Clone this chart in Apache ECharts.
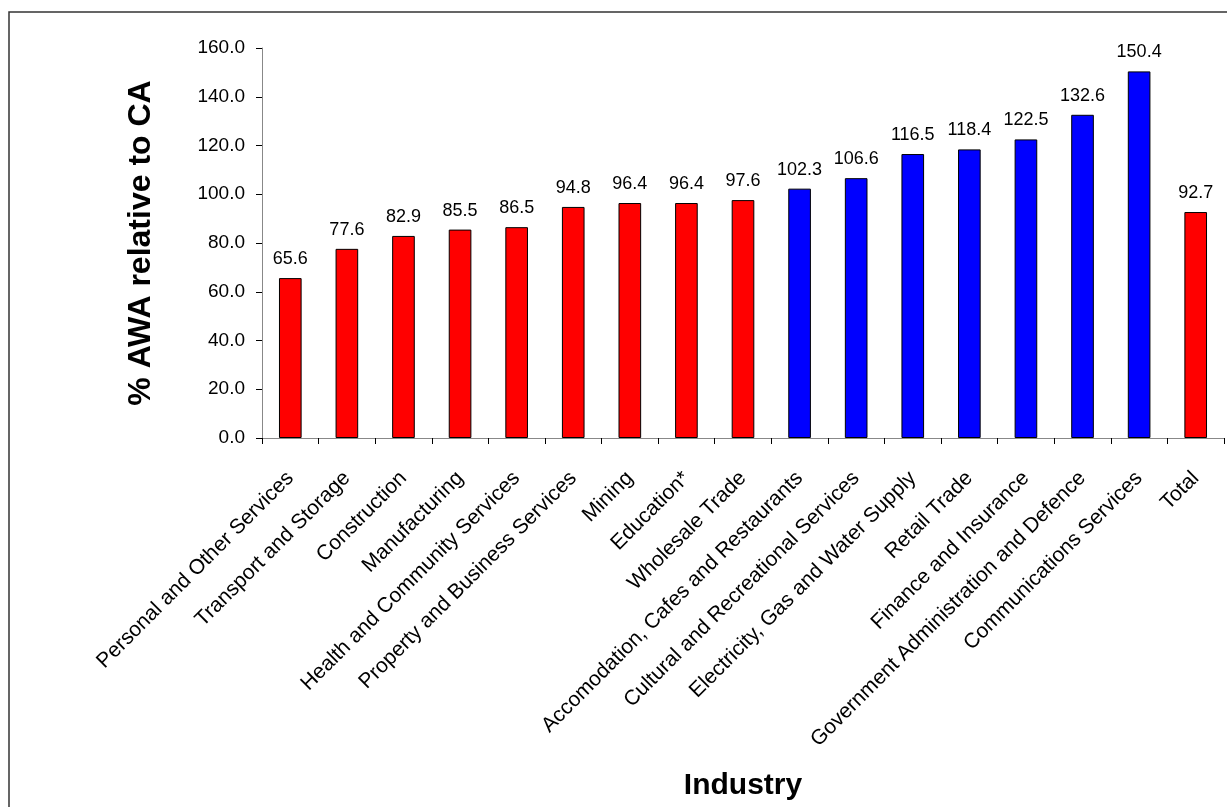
<!DOCTYPE html>
<html>
<head>
<meta charset="utf-8">
<script src="https://cdn.jsdelivr.net/npm/echarts@6/dist/echarts.min.js"></script>
<style>
  html, body { margin: 0; padding: 0; background: #fff; }
  #chart { width: 1227px; height: 807px; }
</style>
</head>
<body>
<div id="chart"></div>
<script>
// Industries, sorted by AWA relative to CA, with the overall total last
const categories = [
  'Personal and Other Services',
  'Transport and Storage',
  'Construction',
  'Manufacturing',
  'Health and Community Services',
  'Property and Business Services',
  'Mining',
  'Education*',
  'Wholesale Trade',
  'Accomodation, Cafes and Restaurants',
  'Cultural and Recreational Services',
  'Electricity, Gas and Water Supply',
  'Retail Trade',
  'Finance and Insurance',
  'Government Administration and Defence',
  'Communications Services',
  'Total'
];
const values = [65.6, 77.6, 82.9, 85.5, 86.5, 94.8, 96.4, 96.4, 97.6,
                102.3, 106.6, 116.5, 118.4, 122.5, 132.6, 150.4, 92.7];
const yTicks = { min: 0, max: 160, interval: 20 };

const RED = '#FF0000';
const BLUE = '#0000FF';

const chart = echarts.init(document.getElementById('chart'), null, { renderer: 'canvas' });

const font = '"Liberation Sans", Arial, sans-serif';

chart.setOption({
  animation: false,
  backgroundColor: '#fff',
  textStyle: { fontFamily: font },
  graphic: [{
    type: 'rect',
    shape: { x: 9, y: 12, width: 1240, height: 820 },
    style: { fill: 'none', stroke: '#333', lineWidth: 1.5 },
    silent: true
  }],
  grid: { left: 262, top: 48, right: 3, bottom: 369, containLabel: false },
  xAxis: {
    type: 'category',
    data: categories,
    boundaryGap: true,
    name: 'Industry',
    nameLocation: 'middle',
    nameGap: 333,
    nameTextStyle: { fontSize: 30, fontWeight: 'bold', color: '#000', fontFamily: font },
    axisLine: { lineStyle: { color: '#888', width: 1 } },
    axisTick: { show: true, alignWithLabel: false, length: 6, lineStyle: { color: '#000' } },
    axisLabel: { rotate: 45, interval: 0, fontSize: 21, color: '#000', margin: 37, fontFamily: font },
    splitLine: { show: false }
  },
  yAxis: {
    type: 'value',
    min: yTicks.min,
    max: yTicks.max,
    interval: yTicks.interval,
    name: '% AWA relative to CA',
    nameLocation: 'middle',
    nameGap: 105,
    nameTextStyle: { fontSize: 32, fontWeight: 'bold', color: '#000', fontFamily: font },
    axisLine: { show: true, lineStyle: { color: '#888', width: 1 } },
    axisTick: { show: true, length: 6, lineStyle: { color: '#000' } },
    axisLabel: { fontSize: 19, color: '#000', margin: 17, fontFamily: font,
                 formatter: v => v.toFixed(1) },
    splitLine: { show: false }
  },
  series: [{
    type: 'bar',
    barWidth: '40%',
    data: values.map((v, i) => ({
      value: v,
      itemStyle: { color: (v >= 100 && i < values.length - 1) ? BLUE : RED }
    })),
    itemStyle: { borderColor: '#000', borderWidth: 1 },
    label: {
      show: true,
      position: 'top',
      distance: 10,
      fontSize: 18,
      color: '#000',
      fontFamily: font,
      formatter: p => p.value.toFixed(1)
    }
  }]
});
</script>
</body>
</html>
